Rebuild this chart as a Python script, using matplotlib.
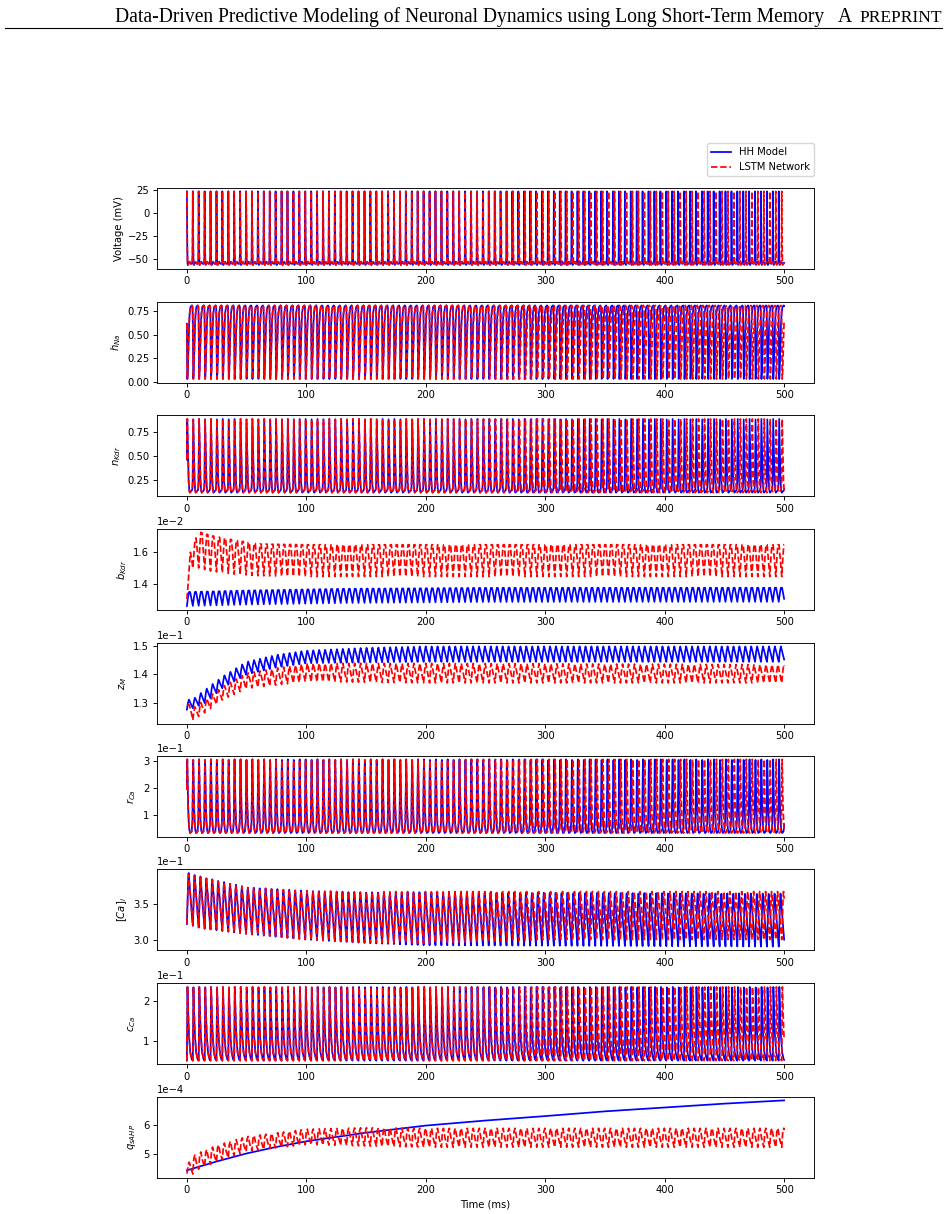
import numpy as np
import matplotlib

matplotlib.use("Agg")
import matplotlib.pyplot as plt
from matplotlib.lines import Line2D

W, H = 948, 1214

# spike times (ms)
HH_SPIKES = [
    0.0, 5.0, 9.9, 14.9, 19.8, 24.8, 29.7, 34.7, 39.6, 44.6,
    49.6, 54.5, 59.5, 64.4, 69.4, 74.3, 79.3, 84.2, 89.2, 94.1,
    99.1, 104.1, 109.0, 114.0, 118.9, 123.9, 128.8, 133.8, 138.7, 143.7,
    148.7, 153.6, 158.6, 163.5, 168.5, 173.4, 178.4, 183.3, 188.3, 193.2,
    198.2, 203.2, 208.1, 213.1, 218.0, 223.0, 227.9, 232.9, 237.8, 242.8,
    247.8, 252.7, 257.7, 262.6, 267.6, 272.5, 277.5, 282.4, 287.4, 292.3,
    297.3, 302.3, 307.2, 312.2, 317.1, 322.1, 327.0, 332.0, 336.9, 341.9,
    346.9, 351.8, 356.8, 361.7, 366.7, 371.6, 376.6, 381.5, 386.5, 391.4,
    396.4, 401.4, 406.3, 411.3, 416.2, 421.2, 426.1, 431.1, 436.0, 441.0,
    446.0, 450.9, 455.9, 460.8, 465.8, 470.7, 475.7, 480.6, 485.6, 490.5,
    495.5,
]
LSTM_SPIKES = HH_SPIKES[:45] + [
    223.0, 228.0, 233.0, 238.0, 243.0, 248.0, 253.0, 258.0, 263.0, 268.0,
    273.0, 278.0, 283.0, 288.0, 293.0, 298.0, 303.0, 308.0, 313.0, 318.0,
    323.0, 328.0, 333.0, 338.0, 343.0, 348.0, 353.0, 358.0, 363.0, 368.0,
    373.0, 378.0, 383.0, 388.0, 393.0, 398.0, 403.0, 408.0, 413.0, 418.0,
    423.0, 428.0, 433.0, 438.0, 443.0, 448.0, 453.0, 458.0, 463.0, 468.0,
    473.0, 478.0, 483.0, 488.0, 493.0, 498.0,
]

# shape of one cycle (fraction of inter-spike interval -> fraction of swing)
V_PHASE = [0, .04, .10, .16, .30, .45, .60, .80, .90, .95, .98, 1]
V_SHAPE = [1, .45, .03, 0, .02, .045, .02, .015, .03, .10, .50, 1]
HNA_PHASE = [0, .03, .08, .15, .25, .35, .45, .60, .85, .95, 1]
HNA_SHAPE = [.75, .30, 0, .08, .40, .70, .88, .98, 1, .98, .75]
NKDR_PHASE = [0, .03, .07, .12, .20, .30, .40, .50, .70, .85, .93, .97, 1]
NKDR_SHAPE = [.45, .90, 1, .80, .45, .15, .03, 0, .02, .03, .06, .15, .45]
BKDR_PHASE = [0, .15, .35, .55, .80, 1]
BKDR_SHAPE = [0, .50, .95, .95, .40, 0]
ZM_PHASE = [0, .15, .35, .60, 1]
ZM_SHAPE = [0, .60, 1, .60, 0]
RCA_PHASE = [0, .03, .07, .12, .20, .30, .40, .55, .80, .93, 1]
RCA_SHAPE = [.60, .95, 1, .75, .40, .15, .05, 0, .02, .15, .60]
CAI_PHASE = [0, .08, .20, .30, .50, .75, 1]
CAI_SHAPE = [0, .25, .85, 1, .70, .33, 0]
CCA_PHASE = [0, .05, .10, .20, .35, .55, .80, 1]
CCA_SHAPE = [0, .60, 1, .70, .35, .12, .02, 0]
QS_PHASE = [0, .15, .35, .60, 1]
QS_SHAPE = [0, .80, 1, .50, 0]

# swing limits (trough, peak)
FLAT_T = [0, 500]
V_LO, V_HI = [-57.0, -57.0], [24.0, 24.0]
HNA_LO, HNA_HI = [0.03, 0.03], [0.81, 0.81]
NKDR_LO, NKDR_HI = [0.12, 0.12], [0.89, 0.89]
RCA_LO, RCA_HI = [0.033, 0.033], [0.3045, 0.3045]
CCA_LO, CCA_HI = [0.052, 0.052], [0.2355, 0.2355]

BKDR_HH_T = [0, 50, 130, 250, 500]
BKDR_HH_LO = [1.256e-2, 1.265e-2, 1.275e-2, 1.282e-2, 1.283e-2]
BKDR_HH_HI = [1.350e-2, 1.360e-2, 1.371e-2, 1.377e-2, 1.378e-2]
BKDR_LSTM_T = [0, 3, 10, 20, 40, 60, 100, 500]
BKDR_LSTM_LO = [1.30e-2, 1.50e-2, 1.50e-2, 1.48e-2, 1.46e-2, 1.45e-2, 1.445e-2, 1.445e-2]
BKDR_LSTM_HI = [1.30e-2, 1.62e-2, 1.745e-2, 1.72e-2, 1.69e-2, 1.665e-2, 1.66e-2, 1.66e-2]

ZM_HH_T = [0, 5, 15, 30, 50, 75, 100, 150, 200, 500]
ZM_HH_LO = [.1275, .128, .1298, .1352, .140, .1425, .144, .1443, .1445, .1445]
ZM_HH_HI = [.131, .1312, .1345, .1393, .1445, .147, .1485, .1495, .150, .150]
ZM_LSTM_T = [0, 5, 15, 30, 50, 100, 200, 500]
ZM_LSTM_LO = [.129, .1238, .1264, .131, .135, .1375, .137, .137]
ZM_LSTM_HI = [.130, .128, .131, .1357, .1405, .144, .144, .1435]

CAI_HH_T = [0, 12, 50, 100, 150, 200, 500]
CAI_HH_LO = [.322, .316, .308, .300, .295, .292, .290]
CAI_HH_HI = [.395, .389, .374, .369, .367, .367, .365]
CAI_LSTM_T = [0, 12, 50, 100, 150, 200, 300, 500]
CAI_LSTM_LO = [.322, .316, .308, .300, .296, .295, .300, .300]
CAI_LSTM_HI = [.393, .388, .374, .369, .368, .368, .368, .368]

QS_HH_T = [0, 10, 25, 50, 75, 100, 150, 200, 250, 300, 350, 400, 450, 500]
QS_HH = [4.46e-4, 4.58e-4, 4.76e-4, 5.03e-4, 5.25e-4, 5.44e-4, 5.73e-4,
         5.97e-4, 6.14e-4, 6.29e-4, 6.45e-4, 6.58e-4, 6.71e-4, 6.82e-4]
QS_LSTM_T = [0, 3, 10, 25, 50, 100, 150, 200, 500]
QS_LSTM_LO = [4.35e-4, 4.27e-4, 4.50e-4, 4.75e-4, 5.10e-4, 5.33e-4, 5.28e-4, 5.24e-4, 5.24e-4]
QS_LSTM_HI = [4.50e-4, 4.90e-4, 5.05e-4, 5.30e-4, 5.60e-4, 5.85e-4, 5.90e-4, 5.88e-4, 5.88e-4]

TIME = np.arange(0, 500.0001, 0.05)


def cycle_trace(spikes, phase, shape, env_t, lo, hi):
    """Repeat one cycle shape at every spike, scaled between trough and peak."""
    edges = np.asarray(spikes, dtype=float)
    edges = np.append(edges, edges[-1] + (edges[-1] - edges[-2]))
    k = np.clip(np.searchsorted(edges, TIME, side="right") - 1, 0, len(edges) - 2)
    frac = (TIME - edges[k]) / (edges[k + 1] - edges[k])
    level = np.interp(frac, phase, shape)
    low = np.interp(TIME, env_t, lo)
    high = np.interp(TIME, env_t, hi)
    return low + (high - low) * level


def pair(phase, shape, hh_env, lstm_env):
    hh = (TIME, cycle_trace(HH_SPIKES, phase, shape, *hh_env))
    lstm = (TIME, cycle_trace(LSTM_SPIKES, phase, shape, *lstm_env))
    return hh, lstm


panels = [
    ("Voltage (mV)", False, *pair(V_PHASE, V_SHAPE, (FLAT_T, V_LO, V_HI), (FLAT_T, V_LO, V_HI))),
    (r"$h_{Na}$", False, *pair(HNA_PHASE, HNA_SHAPE, (FLAT_T, HNA_LO, HNA_HI), (FLAT_T, HNA_LO, HNA_HI))),
    (r"$n_{Kdr}$", False, *pair(NKDR_PHASE, NKDR_SHAPE, (FLAT_T, NKDR_LO, NKDR_HI), (FLAT_T, NKDR_LO, NKDR_HI))),
    (r"$b_{Kdr}$", True, *pair(BKDR_PHASE, BKDR_SHAPE, (BKDR_HH_T, BKDR_HH_LO, BKDR_HH_HI),
                               (BKDR_LSTM_T, BKDR_LSTM_LO, BKDR_LSTM_HI))),
    (r"$z_M$", True, *pair(ZM_PHASE, ZM_SHAPE, (ZM_HH_T, ZM_HH_LO, ZM_HH_HI),
                           (ZM_LSTM_T, ZM_LSTM_LO, ZM_LSTM_HI))),
    (r"$r_{Ca}$", True, *pair(RCA_PHASE, RCA_SHAPE, (FLAT_T, RCA_LO, RCA_HI), (FLAT_T, RCA_LO, RCA_HI))),
    (r"$[Ca]_i$", True, *pair(CAI_PHASE, CAI_SHAPE, (CAI_HH_T, CAI_HH_LO, CAI_HH_HI),
                              (CAI_LSTM_T, CAI_LSTM_LO, CAI_LSTM_HI))),
    (r"$c_{Ca}$", True, *pair(CCA_PHASE, CCA_SHAPE, (FLAT_T, CCA_LO, CCA_HI), (FLAT_T, CCA_LO, CCA_HI))),
    (r"$q_{sAHP}$", True, (QS_HH_T, QS_HH),
     (TIME, cycle_trace(LSTM_SPIKES, QS_PHASE, QS_SHAPE, QS_LSTM_T, QS_LSTM_LO, QS_LSTM_HI))),
]

plt.rcParams.update({
    "font.size": 7.2,
    "axes.linewidth": 0.65,
    "xtick.major.size": 2.8,
    "ytick.major.size": 2.8,
    "xtick.major.width": 0.65,
    "ytick.major.width": 0.65,
    "xtick.major.pad": 2.8,
    "ytick.major.pad": 2.8,
    "axes.labelpad": 3.2,
    "lines.linewidth": 1.25,
})

fig = plt.figure(figsize=(W / 100, H / 100), dpi=100, facecolor="white")

# page header of the preprint
base_y = 1 - 22 / H
fig.text(115 / W, base_y, "Data-Driven Predictive Modeling of Neuronal Dynamics using Long Short-Term Memory",
         family="Liberation Serif", fontsize=14.15, ha="left", va="baseline")
fig.text(852 / W, base_y, "A", family="Liberation Serif", fontsize=14.15, ha="right", va="baseline")
fig.text(942 / W, base_y, "PREPRINT", family="Liberation Serif", fontsize=12.5, ha="right", va="baseline")
fig.add_artist(Line2D([5 / W, 942 / W], [1 - 27.5 / H] * 2, color="black", lw=0.8,
                      transform=fig.transFigure))

PANEL_TOPS = [187.7, 301.7, 415.3, 528.7, 642.7, 755.7, 869.3, 983.3, 1096.7]
PANEL_H = 81.0
LEFT, RIGHT = 157.0, 814.0

for top, (label, sci, hh, lstm) in zip(PANEL_TOPS, panels):
    ax = fig.add_axes([LEFT / W, 1 - (top + PANEL_H) / H, (RIGHT - LEFT) / W, PANEL_H / H])
    ax.plot(*hh, color="b", linestyle="-")
    ax.plot(*lstm, color="r", linestyle="--")
    ax.set_ylabel(label)
    if sci:
        ax.ticklabel_format(axis="y", style="sci", scilimits=(0, 0))
    last_ax = ax

last_ax.set_xlabel("Time (ms)")

handles = [Line2D([], [], color="b", linestyle="-"), Line2D([], [], color="r", linestyle="--")]
fig.legend(handles, ["HH Model", "LSTM Network"], loc="upper right",
           bbox_to_anchor=(RIGHT / W, 1 - 143 / H), borderaxespad=0)

fig.savefig("out.png", dpi=100, facecolor="white")
